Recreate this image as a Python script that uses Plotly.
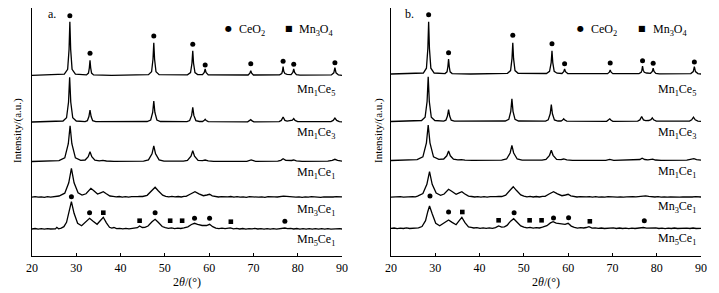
import plotly.graph_objects as go

# ---------------- data (2θ in degrees, intensity in a.u. above each pattern's baseline) ----------------
SAMPLES = ["Mn<sub>1</sub>Ce<sub>5</sub>", "Mn<sub>1</sub>Ce<sub>3</sub>", "Mn<sub>1</sub>Ce<sub>1</sub>",
           "Mn<sub>3</sub>Ce<sub>1</sub>", "Mn<sub>5</sub>Ce<sub>1</sub>"]
X_TICKS = [20, 30, 40, 50, 60, 70, 80, 90]

A_MN1CE5 = [(20, 0), (27.3, 1.1), (28.05, 5.9), (28.37, 26), (28.55, 53.6), (28.73, 26), (29.05, 5.9), (29.8, 1.1),
            (32.3, 0.4), (32.75, 2.2), (32.95, 7.5), (33.1, 15), (33.25, 7.5), (33.45, 2.2), (33.9, 0.4), (38, 0),
            (46.3, 0.7), (47.0, 3.6), (47.32, 16), (47.5, 32.6), (47.68, 16), (48.0, 3.6), (48.7, 0.7),
            (55.1, 0.5), (55.8, 2.7), (56.12, 12), (56.3, 24.6), (56.48, 12), (56.8, 2.7), (57.4, 0.8),
            (58.5, 0.6), (58.9, 2.8), (59.1, 6.3), (59.3, 2.8), (59.8, 0.4), (65, 0),
            (68.8, 0.3), (69.2, 2.1), (69.4, 4.6), (69.6, 2.1), (70.0, 0.3),
            (75.9, 0.4), (76.4, 1.8), (76.55, 4), (76.7, 8.6), (76.85, 4), (77.1, 1.8), (77.6, 1.0),
            (78.5, 0.7), (78.9, 2.8), (79.1, 6.3), (79.3, 2.8), (79.7, 0.6), (80.5, 0.2),
            (87.6, 0.4), (88.15, 2.5), (88.4, 7.6), (88.65, 2.5), (89.2, 0.4), (90, 0)]

A_MN1CE3 = [(20, 0), (27.0, 1.0), (27.8, 4.2), (28.25, 20), (28.5, 44.7), (28.75, 20), (29.2, 4.2), (30.0, 1.0),
            (32.0, 0.3), (32.5, 1.3), (32.85, 5.4), (33.1, 12), (33.35, 5.4), (33.7, 1.3), (34.4, 0.3),
            (46.0, 0.5), (46.8, 2.0), (47.25, 9.5), (47.5, 21), (47.75, 9.5), (48.2, 2.0), (49.0, 0.5),
            (55.0, 0.4), (55.6, 1.4), (56.05, 6.6), (56.3, 14.6), (56.55, 6.6), (57.0, 1.4), (57.8, 0.5),
            (58.5, 0.5), (58.85, 1.4), (59.1, 2.7), (59.35, 1.4), (59.8, 0.4),
            (68.7, 0.2), (69.1, 1.1), (69.4, 2.4), (69.7, 1.1), (70.1, 0.2),
            (75.8, 0.4), (76.3, 1.6), (76.7, 5), (77.1, 1.6), (77.6, 0.9), (78.3, 1.0), (78.8, 1.8), (79.1, 3.4),
            (79.4, 1.6), (80.0, 0.4), (87.5, 0.4), (88.0, 1.6), (88.4, 4), (88.8, 1.6), (89.4, 0.4), (90, 0.1)]

A_MN1CE1 = [(20, 0), (25.0, 0.3), (26.1, 0.9), (27.4, 3.6), (28.2, 17.8), (28.6, 35.7), (29.0, 17.8), (29.8, 3.6),
            (31.0, 1.2), (32.0, 1.5), (32.7, 4.8), (33.1, 9.7), (33.5, 4.8), (34.2, 1.3), (35.2, 0.6), (36.0, 1.1),
            (36.8, 0.5), (38.5, 0.2), (45.2, 0.4), (46.3, 1.6), (47.1, 7.7), (47.5, 15.5), (47.9, 7.7), (48.7, 1.6),
            (49.8, 0.4), (54.2, 0.3), (55.1, 1.1), (55.9, 5.4), (56.3, 10.8), (56.7, 5.4), (57.5, 1.2), (58.5, 0.9),
            (59.1, 1.5), (59.8, 0.7), (61, 0.2), (68.5, 0.2), (69.5, 1.5), (70.5, 0.2),
            (75.5, 0.3), (76.2, 1.2), (76.7, 2.8), (77.3, 1.2), (78.0, 0.8), (78.6, 1.0), (79.1, 1.5), (79.7, 0.6),
            (81.0, 0.1), (86.8, 0.3), (87.8, 1.1), (88.4, 2.2), (89.0, 1.1), (90, 0.3)]

A_MN3CE1 = [(20, 0.2), (20.7, 0.6), (21.4, 0.1), (22.1, 0.5), (22.8, 0.0), (23.5, 0.6), (24.2, 0.2), (24.9, 0.6),
            (25.5, 0.5), (26.1, 1.3), (27.4, 4.1), (28.3, 14.5), (28.9, 29), (29.5, 14.5), (30.4, 4.5), (31.3, 2.2),
            (32.2, 3.5), (32.8, 7.2), (33.3, 9), (33.9, 6.8), (34.8, 3.2), (35.5, 4.5), (36.1, 5.6), (36.7, 3.8),
            (37.6, 1.3), (38.3, 0.9), (39.0, 0.4), (39.7, 0.8), (40.4, 0.2), (41.1, 0.7), (41.8, 0.2), (42.5, 0.6),
            (43.2, 0.3), (43.8, 0.7), (44.3, 1.0), (45.0, 0.8), (46.0, 2.0), (47.1, 6.5), (47.8, 10), (48.5, 6.5),
            (49.5, 2.2), (50.2, 1.0), (50.9, 0.5), (51.6, 0.9), (52.3, 0.4), (53.0, 0.8), (53.7, 0.3), (54.3, 0.9),
            (54.8, 1.0), (55.8, 3.3), (56.8, 5.6), (57.7, 3.5), (58.7, 1.6), (59.5, 2.3), (60.1, 3.0), (60.7, 1.5),
            (61.4, 0.8), (62.1, 0.3), (62.8, 0.6), (63.5, 0.2), (64.2, 0.5), (64.9, 0.8), (65.6, 0.2), (66.3, 0.6),
            (67.0, 0.1), (67.7, 0.5), (68.4, 0.0), (69.1, 0.6), (69.8, 0.3), (70.5, 0.7), (71.2, 0.1), (71.9, 0.5),
            (72.6, 0.0), (73.3, 0.6), (74.0, 0.2), (74.7, 0.5), (75.4, 0.3), (76.1, 0.8), (76.8, 1.1), (77.5, 1.0),
            (78.2, 0.5), (78.9, 0.7), (79.6, 0.2), (80.3, 0.5), (81.0, 0.0), (81.7, 0.5), (82.4, 0.1), (83.1, 0.6),
            (83.8, 0.2), (84.5, 0.5), (85.2, 0.0), (85.9, 0.5), (86.6, 0.2), (87.3, 0.6), (88.0, 0.3), (88.7, 0.7),
            (89.4, 0.2), (90, 0.4)]

A_MN5CE1 = [(20, 0.3), (20.7, 0.8), (21.4, 0.2), (22.1, 0.7), (22.8, 0.1), (23.5, 0.7), (24.2, 0.3), (24.9, 0.6),
            (25.3, 0.4), (25.6, 2.0), (26.0, 0.5), (26.6, 1.2), (27.2, 2.6), (27.8, 7.0), (28.4, 18), (28.9, 27.6),
            (29.5, 16), (30.3, 6.0), (31.2, 3.5), (32.2, 7.5), (33.0, 11), (33.8, 8.0), (34.7, 5.0), (35.4, 8.5),
            (36.1, 12), (36.8, 6.5), (37.5, 2.0), (38.0, 1.2), (38.5, 1.8), (39.1, 0.6), (39.8, 1.0), (40.5, 0.4),
            (41.2, 1.0), (41.9, 0.4), (42.6, 0.9), (43.2, 0.7), (43.8, 1.6), (44.3, 3.3), (44.9, 1.8), (45.5, 2.0),
            (46.2, 3.3), (47.1, 7.5), (47.8, 10), (48.5, 7.0), (49.4, 2.8), (50.1, 1.6), (50.8, 0.9), (51.5, 1.5),
            (52.2, 0.7), (52.9, 1.1), (53.6, 0.8), (54.3, 1.5), (55.2, 2.5), (56.0, 4.8), (56.7, 6.0), (57.4, 5.0),
            (58.4, 3.8), (59.4, 3.8), (60.1, 5.0), (60.8, 2.6), (61.5, 1.2), (62.2, 0.7), (62.9, 1.1), (63.6, 0.6),
            (64.2, 1.0), (64.8, 1.5), (65.5, 0.5), (66.2, 0.9), (66.9, 0.3), (67.6, 0.8), (68.3, 0.2), (69.0, 0.7),
            (69.7, 0.4), (70.3, 1.0), (71.0, 0.3), (71.7, 0.7), (72.4, 0.1), (73.1, 0.6), (73.8, 0.2), (74.5, 0.6),
            (75.2, 0.2), (75.9, 0.7), (76.5, 0.8), (77.1, 1.3), (77.7, 0.6), (78.4, 0.9), (79.1, 0.3), (79.8, 0.8),
            (80.5, 0.2), (81.2, 0.6), (81.9, 0.1), (82.6, 0.7), (83.3, 0.2), (84.0, 0.6), (84.7, 0.1), (85.4, 0.6),
            (86.1, 0.2), (86.8, 0.7), (87.5, 0.2), (88.2, 0.6), (88.9, 0.3), (89.5, 0.6), (90, 0.3)]

B_MN1CE5 = [(20, 0), (27.3, 1.0), (28.0, 5.8), (28.32, 25.5), (28.5, 52.3), (28.68, 25.5), (29.0, 5.8), (29.75, 1.0),
            (32.2, 0.4), (32.65, 2.2), (32.85, 7.5), (33.0, 15), (33.15, 7.5), (33.35, 2.2), (33.8, 0.4), (38, 0),
            (46.3, 0.7), (47.0, 3.4), (47.32, 15.3), (47.5, 31.3), (47.68, 15.3), (48.0, 3.4), (48.7, 0.7),
            (55.1, 0.5), (55.8, 2.6), (56.17, 11.4), (56.35, 23.3), (56.53, 11.4), (56.85, 2.6), (57.5, 0.8),
            (58.6, 0.5), (59.0, 2.3), (59.2, 5), (59.4, 2.3), (59.9, 0.4), (65, 0),
            (68.9, 0.3), (69.3, 1.8), (69.5, 4), (69.7, 1.8), (70.1, 0.3),
            (76.0, 0.4), (76.5, 1.7), (76.65, 3.8), (76.8, 8), (76.95, 3.8), (77.2, 1.7), (77.7, 1.0),
            (78.6, 0.7), (79.0, 2.6), (79.2, 5.7), (79.4, 2.6), (79.8, 0.6), (80.6, 0.2),
            (87.7, 0.4), (88.25, 2.4), (88.5, 7.3), (88.75, 2.4), (89.3, 0.4), (90, 0)]

B_MN1CE3 = [(20, 0), (26.9, 1.0), (27.7, 4.2), (28.15, 20), (28.4, 44.6), (28.65, 20), (29.1, 4.2), (29.9, 1.0),
            (31.9, 0.3), (32.4, 1.3), (32.75, 5.4), (33.0, 12), (33.25, 5.4), (33.6, 1.3), (34.3, 0.3),
            (45.8, 0.5), (46.6, 2.1), (47.05, 10.2), (47.3, 22.7), (47.55, 10.2), (48.0, 2.1), (48.8, 0.5),
            (54.9, 0.4), (55.5, 1.6), (55.95, 7.7), (56.2, 17), (56.45, 7.7), (56.9, 1.6), (57.7, 0.5),
            (58.4, 0.5), (58.75, 1.4), (59.0, 2.7), (59.25, 1.4), (59.7, 0.4),
            (68.7, 0.2), (69.1, 1.2), (69.4, 2.7), (69.7, 1.2), (70.1, 0.2),
            (75.7, 0.4), (76.2, 1.6), (76.6, 5), (77.0, 1.6), (77.5, 0.9), (78.2, 1.0), (78.7, 1.9), (79.0, 3.7),
            (79.3, 1.7), (79.9, 0.4), (87.4, 0.4), (87.9, 1.7), (88.3, 4.3), (88.7, 1.7), (89.3, 0.4), (90, 0.1)]

B_MN1CE1 = [(20, 0), (24.8, 0.3), (25.9, 0.9), (27.2, 3.6), (28.0, 17.7), (28.4, 35.5), (28.8, 17.7), (29.6, 3.6),
            (30.8, 1.2), (31.9, 1.5), (32.6, 4.7), (33.0, 9.5), (33.4, 4.7), (34.1, 1.3), (35.1, 0.6), (35.9, 0.9),
            (36.7, 0.4), (38.4, 0.2), (45.0, 0.4), (46.1, 1.5), (46.9, 7.5), (47.3, 15), (47.7, 7.5), (48.5, 1.5),
            (49.6, 0.4), (54.1, 0.3), (55.0, 1.0), (55.8, 5.2), (56.2, 10.3), (56.6, 5.2), (57.4, 1.1), (58.4, 0.8),
            (59.0, 1.5), (59.7, 0.6), (61, 0.2), (68.5, 0.2), (69.4, 1.2), (70.3, 0.2),
            (75.5, 0.3), (76.2, 1.0), (76.7, 2.3), (77.3, 1.0), (78.0, 0.7), (78.6, 0.9), (79.1, 1.4), (79.7, 0.5),
            (81.0, 0.1), (86.8, 0.3), (87.8, 0.9), (88.4, 1.8), (89.0, 0.9), (90, 0.3)]

B_MN3CE1 = [(20, 0.2), (20.7, 0.5), (21.4, 0.1), (22.1, 0.6), (22.8, 0.1), (23.5, 0.5), (24.2, 0.2), (24.9, 0.6),
            (25.5, 0.5), (26.0, 1.2), (27.2, 3.8), (28.1, 13), (28.7, 25.6), (29.3, 13), (30.2, 4.2), (31.2, 2.0),
            (32.0, 3.3), (32.6, 6.4), (33.0, 8), (33.7, 6.0), (34.7, 3.0), (35.4, 4.5), (36.0, 5.6), (36.6, 3.6),
            (37.5, 1.2), (38.2, 0.8), (38.9, 0.3), (39.6, 0.7), (40.3, 0.2), (41.0, 0.6), (41.7, 0.1), (42.4, 0.6),
            (43.1, 0.2), (43.7, 0.6), (44.3, 0.9), (45.0, 0.8), (45.9, 2.2), (46.9, 7.0), (47.6, 10.6), (48.3, 7.0),
            (49.3, 2.4), (50.0, 1.1), (50.7, 0.5), (51.4, 0.9), (52.1, 0.3), (52.8, 0.8), (53.5, 0.3), (54.2, 0.9),
            (54.8, 1.0), (55.7, 3.3), (56.7, 5.6), (57.6, 3.5), (58.6, 1.6), (59.4, 2.3), (60.0, 3.0), (60.6, 1.5),
            (61.3, 0.8), (62.0, 0.3), (62.7, 0.6), (63.4, 0.2), (64.1, 0.5), (64.8, 0.7), (65.5, 0.2), (66.2, 0.6),
            (66.9, 0.1), (67.6, 0.5), (68.3, 0.1), (69.0, 0.6), (69.7, 0.3), (70.4, 0.6), (71.1, 0.1), (71.8, 0.5),
            (72.5, 0.1), (73.2, 0.5), (73.9, 0.2), (74.6, 0.6), (75.3, 0.4), (76.0, 0.9), (76.8, 1.3), (77.5, 1.5),
            (78.2, 1.0), (78.9, 0.6), (79.6, 0.3), (80.3, 0.6), (81.0, 0.1), (81.7, 0.5), (82.4, 0.1), (83.1, 0.5),
            (83.8, 0.2), (84.5, 0.5), (85.2, 0.1), (85.9, 0.5), (86.6, 0.2), (87.3, 0.5), (88.0, 0.3), (88.8, 0.7),
            (89.4, 0.2), (90, 0.3)]

B_MN5CE1 = [(20, 0.3), (20.7, 0.7), (21.4, 0.1), (22.1, 0.6), (22.8, 0.2), (23.5, 0.8), (24.2, 0.2), (24.9, 0.6),
            (25.6, 0.3), (26.2, 0.9), (27.0, 2.2), (27.8, 8.0), (28.3, 17), (28.7, 22.7), (29.3, 15), (30.1, 5.5),
            (31.0, 3.0), (32.1, 6.0), (33.0, 8.7), (33.8, 6.3), (34.7, 4.0), (35.4, 8.0), (36.0, 11.3), (36.7, 6.0),
            (37.5, 1.8), (38.1, 1.3), (38.7, 0.7), (39.4, 1.0), (40.1, 0.3), (40.8, 0.9), (41.5, 0.3), (42.2, 0.8),
            (42.9, 0.4), (43.6, 1.1), (44.3, 2.7), (45.0, 1.5), (45.6, 1.9), (46.2, 3.3), (47.0, 7.5), (47.7, 10),
            (48.4, 7.0), (49.3, 2.8), (50.0, 1.5), (50.7, 0.8), (51.4, 1.4), (52.1, 0.6), (52.8, 1.0), (53.5, 0.7),
            (54.2, 1.5), (55.2, 3.0), (56.0, 5.8), (56.6, 7.0), (57.3, 5.5), (58.2, 4.8), (59.3, 4.3), (60.0, 5.4),
            (60.7, 2.6), (61.4, 1.3), (62.1, 0.6), (62.8, 1.0), (63.5, 0.7), (64.1, 1.2), (64.7, 2.0), (65.4, 0.6),
            (66.1, 0.9), (66.8, 0.3), (67.5, 0.7), (68.2, 0.2), (68.9, 0.6), (69.6, 0.5), (70.2, 0.9), (70.9, 0.2),
            (71.6, 0.7), (72.3, 0.2), (73.0, 0.6), (73.7, 0.1), (74.4, 0.6), (75.1, 0.2), (75.8, 0.6), (76.4, 0.5),
            (77.0, 1.2), (77.7, 0.6), (78.4, 0.8), (79.1, 0.3), (79.8, 0.8), (80.5, 0.2), (81.2, 0.6), (81.9, 0.1),
            (82.6, 0.6), (83.3, 0.2), (84.0, 0.7), (84.7, 0.2), (85.4, 0.5), (86.1, 0.1), (86.8, 0.6), (87.5, 0.2),
            (88.2, 0.7), (88.9, 0.2), (89.5, 0.6), (90, 0.3)]

# phase marks: (2θ, height above the pattern baseline)
A_TOP_CEO2 = [(28.55, 59.6), (33.1, 22), (47.5, 39.3), (56.3, 31), (59.1, 10.3), (69.4, 11.6), (76.7, 14),
              (79.1, 11), (88.4, 12.6)]
A_BOT_CEO2 = [(28.9, 32.6), (33.0, 16.6), (47.8, 16.6), (56.7, 11), (60.1, 11), (77.1, 8)]
A_BOT_MN3O4 = [(36.1, 16.6), (44.3, 8.6), (51.2, 8.6), (53.9, 8.6), (64.9, 7.6)]
B_TOP_CEO2 = [(28.5, 59.3), (33.0, 21.3), (47.5, 38.7), (56.35, 30.3), (59.2, 10.3), (69.5, 11), (76.8, 13.3),
              (79.2, 10.7), (88.5, 12)]
B_BOT_CEO2 = [(28.8, 32.7), (33.0, 16.7), (47.8, 16), (56.7, 10.7), (60.1, 11), (77.2, 8)]
B_BOT_MN3O4 = [(36.1, 16.7), (44.3, 8.4), (51.3, 8.4), (54.0, 8.4), (64.9, 7.4)]

# ---------------- layout / styling ----------------
PAGE_OFF = 8                      # default page margin of the html body
W, H = 719 - PAGE_OFF, 293 - PAGE_OFF
ML, MR, MT, MB = 24, 18, 0, 37
PW = W - ML - MR
PH = H - MT - MB
FONT = "Liberation Serif"
# vertical stacking offsets of the patterns (positions, not data)
OFFS_A = [180.7, 134.0, 94.5, 58.7, 26.7]
OFFS_B = [182.0, 134.5, 95.5, 58.7, 27.3]
LABEL_Y_A = [166, 123, 83, 46, 16]
LABEL_Y_B = [166, 123, 84, 49, 17]

fig = go.Figure()


def add_panel(patterns, offs, top_ce, bot_ce, bot_mn, xa, ya):
    for pts, off in zip(patterns, offs):
        xs = [p[0] for p in pts]
        ys = [p[1] + off for p in pts]
        fig.add_trace(go.Scatter(x=xs, y=ys, mode="lines", xaxis=xa, yaxis=ya, showlegend=False,
                                 line=dict(color="black", width=1.3), hoverinfo="skip"))
    for pts, off, sym in [(top_ce, offs[0], "circle"), (bot_ce, offs[4], "circle"), (bot_mn, offs[4], "square")]:
        fig.add_trace(go.Scatter(x=[p[0] for p in pts], y=[p[1] + off for p in pts], mode="markers",
                                 xaxis=xa, yaxis=ya, showlegend=False, hoverinfo="skip",
                                 marker=dict(symbol=sym, color="black", size=5 if sym == "circle" else 4.6,
                                             line=dict(width=0))))


add_panel([A_MN1CE5, A_MN1CE3, A_MN1CE1, A_MN3CE1, A_MN5CE1], OFFS_A,
          A_TOP_CEO2, A_BOT_CEO2, A_BOT_MN3O4, "x", "y")
add_panel([B_MN1CE5, B_MN1CE3, B_MN1CE1, B_MN3CE1, B_MN5CE1], OFFS_B,
          B_TOP_CEO2, B_BOT_CEO2, B_BOT_MN3O4, "x2", "y2")

xcommon = dict(range=[20, 90], tickvals=X_TICKS, ticks="inside", ticklen=3, tickwidth=1, tickcolor="black",
               showline=True, linecolor="black", linewidth=1.2, showgrid=False, zeroline=False,
               tickfont=dict(family=FONT, size=12, color="black"),
               title=dict(text="2<i>θ</i>/(°)", font=dict(family=FONT, size=12, color="black"), standoff=4))
ycommon = dict(range=[0, 248], showline=True, linecolor="black", linewidth=1.2, showgrid=False,
               zeroline=False, showticklabels=False, ticks="")

a_end = 310 / PW
b_start = 359 / PW
fig.update_layout(
    width=W, height=H, margin=dict(l=ML, r=MR, t=MT, b=MB, autoexpand=False),
    paper_bgcolor="white", plot_bgcolor="white",
    xaxis=dict(domain=[0, a_end], anchor="y", **xcommon),
    yaxis=dict(domain=[0, 1], anchor="x", **ycommon),
    xaxis2=dict(domain=[b_start, 1], anchor="y2", **xcommon),
    yaxis2=dict(domain=[0, 1], anchor="x2", **ycommon),
    font=dict(family=FONT, color="black"),
)

ann = []
lab_font = dict(family=FONT, size=12, color="black")
for xr, yr, labys, xr_end in [("x", "y", LABEL_Y_A, 88.9), ("x2", "y2", LABEL_Y_B, 89.3)]:
    for s, ly in zip(SAMPLES, labys):
        ann.append(dict(x=xr_end, y=ly, xref=xr, yref=yr, text=s, showarrow=False, xanchor="right",
                        yanchor="middle", font=lab_font))

# panel letters
ann.append(dict(x=24.5, y=242.5, xref="x", yref="y", text="a.", showarrow=False, font=lab_font))
ann.append(dict(x=24.2, y=242.5, xref="x2", yref="y2", text="b.", showarrow=False, font=lab_font))

# phase keys
for xr, yr, xd, xt, xs, xm in [("x", "y", 64.3, 66.3, 78.0, 79.8), ("x2", "y2", 62.8, 64.6, 76.6, 78.7)]:
    ann.append(dict(x=xd, y=228, xref=xr, yref=yr, text="●", showarrow=False,
                    font=dict(family="DejaVu Sans", size=8, color="black")))
    ann.append(dict(x=xt, y=226, xref=xr, yref=yr, text="CeO<sub>2</sub>", showarrow=False, xanchor="left",
                    font=lab_font))
    ann.append(dict(x=xs, y=228, xref=xr, yref=yr, text="■", showarrow=False,
                    font=dict(family="DejaVu Sans", size=8, color="black")))
    ann.append(dict(x=xm, y=226, xref=xr, yref=yr, text="Mn<sub>3</sub>O<sub>4</sub>", showarrow=False,
                    xanchor="left", font=lab_font))

# y-axis titles (screen x of their centres: 17 and 378; vertical centre at screen y 131)
for sx in (17, 378):
    ann.append(dict(x=(sx - PAGE_OFF - ML) / PW, y=(PH - (131 - PAGE_OFF - MT)) / PH, xref="paper", yref="paper",
                    text="Intensity/(a.u.)", showarrow=False, textangle=-90,
                    font=dict(family=FONT, size=11, color="black"), xanchor="center", yanchor="middle"))
fig.update_layout(annotations=ann)

fig.write_html("out.html")
